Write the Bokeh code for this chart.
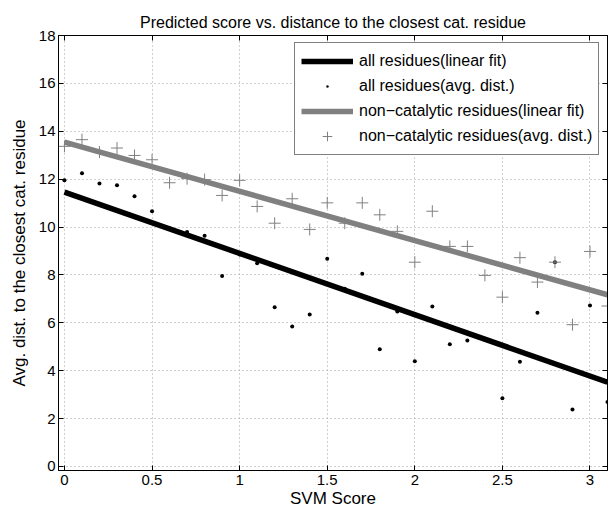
from bokeh.plotting import figure
from bokeh.models import Range1d, Legend, LegendItem, LinearAxis, FixedTicker
from bokeh.embed import file_html
from bokeh.resources import INLINE

# SVM score bins
svm_score = [0.0, 0.1, 0.2, 0.3, 0.4, 0.5, 0.6, 0.7, 0.8, 0.9,
             1.0, 1.1, 1.2, 1.3, 1.4, 1.5, 1.6, 1.7, 1.8, 1.9,
             2.0, 2.1, 2.2, 2.3, 2.4, 2.5, 2.6, 2.7, 2.8, 2.9,
             3.0, 3.1]

# average distance to the closest catalytic residue, all residues
all_avg_dist = [11.95, 12.25, 11.82, 11.74, 11.29, 10.66, 9.95, 9.79, 9.64, 7.95,
                8.85, 8.49, 6.65, 5.85, 6.35, 8.67, 7.42, 8.05, 4.89, 6.47,
                4.39, 6.68, 5.10, 5.26, 5.30, 2.85, 4.37, 6.42, 8.53, 2.38,
                6.72, 2.69]

# same, non-catalytic residues only
noncat_avg_dist = [13.37, 13.65, 13.13, 13.30, 12.99, 12.81, 11.85, 12.02, 11.98, 11.32,
                   11.95, 10.86, 10.16, 11.18, 9.90, 11.01, 10.16, 11.01, 10.51, 9.82,
                   8.53, 10.66, 9.19, 9.19, 7.98, 7.07, 8.72, 7.70, 8.53, 5.92,
                   8.98, 6.70]

# linear fits evaluated at the ends of the score range
fit_x = [0.0, 3.1]
all_fit_y = [11.46, 3.52]
noncat_fit_y = [13.55, 7.17]

x_ticks = [0, 0.5, 1, 1.5, 2, 2.5, 3]
y_ticks = [0, 2, 4, 6, 8, 10, 12, 14, 16, 18]

FONT = "Liberation Sans"
GREY = "#808080"

p = figure(width=609, height=510, output_backend="svg", toolbar_location=None,
           x_range=Range1d(-0.034, 3.1), y_range=Range1d(-0.17, 18),
           title="Predicted score vs. distance to the closest cat. residue")
p.min_border_left = 58
p.min_border_right = 2
p.min_border_top = 35
p.min_border_bottom = 40
p.background_fill_color = "white"
p.border_fill_color = "white"
p.outline_line_color = "black"
p.outline_line_width = 1

p.title.text_font = FONT
p.title.text_font_size = "16px"
p.title.text_font_style = "normal"
p.title.align = "center"
p.title.text_color = "black"
p.title.standoff = 9

for ax in (p.xaxis[0], p.yaxis[0]):
    ax.major_label_text_font = FONT
    ax.major_label_text_font_size = "15px"
    ax.major_label_text_color = "black"
    ax.axis_label_text_font = FONT
    ax.axis_label_text_font_size = "17px"
    ax.axis_label_text_font_style = "normal"
    ax.axis_label_text_color = "black"
    ax.major_tick_in = 5
    ax.major_tick_out = 0
    ax.minor_tick_line_color = None
    ax.axis_line_color = "black"
    ax.major_tick_line_color = "black"

p.xaxis.ticker = FixedTicker(ticks=x_ticks)
p.yaxis.ticker = FixedTicker(ticks=y_ticks)
p.xaxis.major_label_overrides = {0: "0", 1: "1", 2: "2", 3: "3"}
p.xaxis.axis_label = "SVM Score"
p.yaxis.axis_label = "Avg. dist. to the closest cat. residue"
p.xaxis.major_label_standoff = 4
p.yaxis.major_label_standoff = 3
p.xaxis.axis_label_standoff = 1
p.yaxis.axis_label_standoff = 7

# ticks on the top and right edges of the box, without labels
blank_x = {t: "" for t in x_ticks}
blank_y = {t: "" for t in y_ticks}
top_ax = LinearAxis(ticker=FixedTicker(ticks=x_ticks), major_tick_in=5, major_tick_out=0,
                    minor_tick_line_color=None, major_label_overrides=blank_x,
                    major_label_text_font_size="1px", major_label_text_color=None,
                    major_label_standoff=0, axis_line_color="black")
right_ax = LinearAxis(ticker=FixedTicker(ticks=y_ticks), major_tick_in=5, major_tick_out=0,
                      minor_tick_line_color=None, major_label_overrides=blank_y,
                      major_label_text_font_size="1px", major_label_text_color=None,
                      major_label_standoff=0, axis_line_color="black")
p.add_layout(top_ax, "above")
p.add_layout(right_ax, "right")

for g in (p.xgrid[0], p.ygrid[0]):
    g.grid_line_color = "#a0a0a0"
    g.grid_line_dash = "1 3"
    g.grid_line_width = 1
p.xgrid.ticker = FixedTicker(ticks=x_ticks)
p.ygrid.ticker = FixedTicker(ticks=y_ticks)

r_all_fit = p.line(fit_x, all_fit_y, line_color="black", line_width=5.5)
r_all_pts = p.scatter(svm_score, all_avg_dist, marker="dot", size=16,
                      line_color="black", fill_color="black")
r_nc_fit = p.line(fit_x, noncat_fit_y, line_color=GREY, line_width=5.5)
r_nc_pts = p.scatter(svm_score, noncat_avg_dist, marker="cross", size=12,
                     line_color=GREY, line_width=1)

legend = Legend(items=[
    LegendItem(label="all residues(linear fit)", renderers=[r_all_fit]),
    LegendItem(label="all residues(avg. dist.)", renderers=[r_all_pts]),
    LegendItem(label="non\u2212catalytic residues(linear fit)", renderers=[r_nc_fit]),
    LegendItem(label="non\u2212catalytic residues(avg. dist.)", renderers=[r_nc_pts]),
], location=(236, 315))
legend.label_text_font = FONT
legend.label_text_font_size = "16px"
legend.label_text_color = "black"
legend.glyph_width = 52
legend.glyph_height = 24
legend.label_height = 24
legend.label_standoff = 6
legend.spacing = 1
legend.padding = 6
legend.margin = 0
legend.border_line_color = "black"
legend.border_line_width = 1
legend.background_fill_color = "white"
legend.background_fill_alpha = 1
p.add_layout(legend, "center")

open("out.html", "w").write(file_html(p, INLINE))
